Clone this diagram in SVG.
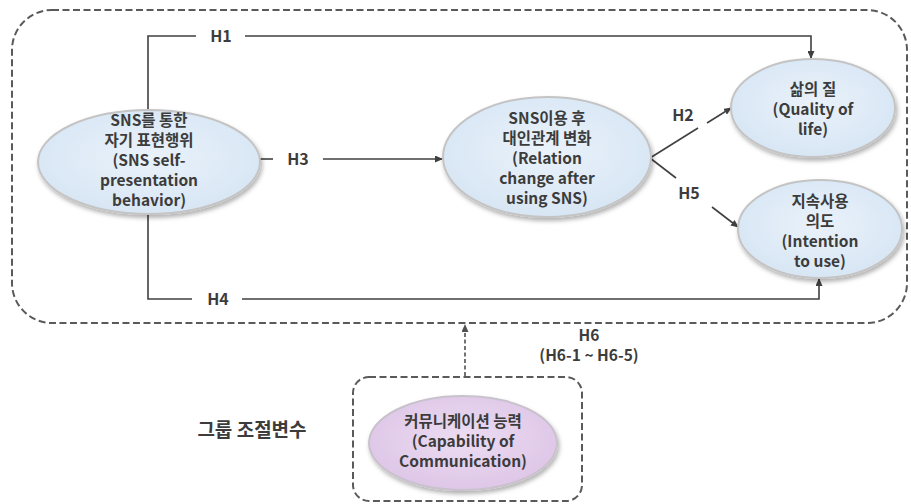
<svg xmlns="http://www.w3.org/2000/svg" width="911" height="504" viewBox="0 0 911 504">
<defs>
<style>
.t{font-family:"Noto Sans CJK KR","Malgun Gothic","Liberation Sans",sans-serif;font-weight:bold;fill:#3c3c3c;text-anchor:middle}
.n{font-size:15.5px}
.l{font-size:16px}
.c{fill:none;stroke:#404040;stroke-width:1.6}
.d{fill:none;stroke:#5a5a5a;stroke-width:2;stroke-dasharray:7 3.5}
.eb{fill:url(#gb);stroke:#c4c4c4;stroke-width:2;filter:url(#sh)}
.ep{fill:url(#gp);stroke:#c9c2cc;stroke-width:2;filter:url(#sh)}
</style>
<radialGradient id="gb" cx="0.5" cy="0.45" r="0.6">
<stop offset="0" stop-color="#eaf2fa"/>
<stop offset="1" stop-color="#d6e5f4"/>
</radialGradient>
<radialGradient id="gp" cx="0.5" cy="0.45" r="0.6">
<stop offset="0" stop-color="#eddcf2"/>
<stop offset="1" stop-color="#dcc4e6"/>
</radialGradient>
<filter id="sh" x="-20%" y="-20%" width="140%" height="150%">
<feDropShadow dx="1.5" dy="3" stdDeviation="2" flood-color="#000" flood-opacity="0.3"/>
</filter>
<marker id="ah" markerWidth="8" markerHeight="7" refX="7" refY="3.5" orient="auto" markerUnits="userSpaceOnUse">
<path d="M0,0 L8,3.5 L0,7 Z" fill="#404040"/>
</marker>
<marker id="ahd" markerWidth="8" markerHeight="7" refX="7" refY="3.5" orient="auto" markerUnits="userSpaceOnUse">
<path d="M0,0 L8,3.5 L0,7 Z" fill="#505050"/>
</marker>
</defs>
<rect width="911" height="504" fill="#ffffff"/>

<g id="group-outer">
<rect class="d" x="12" y="10" width="895" height="313" rx="40" ry="40"/>
</g>

<g id="connectors">
<path class="c" d="M148,110 V36 H196"/>
<path class="c" d="M245,36 H811 V58" marker-end="url(#ah)"/>
<path class="c" d="M148,213 V299 H192"/>
<path class="c" d="M242,299 H819 V279" marker-end="url(#ah)"/>
<path class="c" d="M259,159 H273"/>
<path class="c" d="M323,159 H442" marker-end="url(#ah)"/>
<path class="c" d="M650,158 L698,128"/>
<path class="c" d="M707,123 L731,108" marker-end="url(#ah)"/>
<path class="c" d="M650,158 L676,178"/>
<path class="c" d="M712,207 L738,227" marker-end="url(#ah)"/>
<path fill="none" stroke="#505050" stroke-width="1.6" stroke-dasharray="4 2.5" d="M465,376 V325" marker-end="url(#ahd)"/>
<text class="t l" x="221" y="42">H1</text>
<text class="t l" x="218" y="305">H4</text>
<text class="t l" x="298" y="165">H3</text>
<text class="t l" x="683" y="121">H2</text>
<text class="t l" x="689" y="199">H5</text>
<text class="t n" x="589" y="341">H6</text>
<text class="t n" x="589" y="361">(H6-1 ~ H6-5)</text>
</g>

<g id="node-sns-self">
<ellipse class="eb" cx="149" cy="162" rx="111" ry="52"/>
<text class="t n" x="149" y="126">SNS를 통한</text>
<text class="t n" x="149" y="146">자기 표현행위</text>
<text class="t n" x="149" y="166">(SNS self-</text>
<text class="t n" x="149" y="186">presentation</text>
<text class="t n" x="149" y="206">behavior)</text>
</g>

<g id="node-relation">
<ellipse class="eb" cx="547" cy="157" rx="104" ry="60"/>
<text class="t n" x="547" y="124">SNS이용 후</text>
<text class="t n" x="547" y="144">대인관계 변화</text>
<text class="t n" x="547" y="164">(Relation</text>
<text class="t n" x="547" y="184">change after</text>
<text class="t n" x="547" y="204">using SNS)</text>
</g>

<g id="node-quality">
<ellipse class="eb" cx="813" cy="108" rx="82" ry="49"/>
<text class="t n" x="813" y="95">삶의 질</text>
<text class="t n" x="813" y="115">(Quality of</text>
<text class="t n" x="813" y="135">life)</text>
</g>

<g id="node-intention">
<ellipse class="eb" cx="820" cy="229" rx="82" ry="49"/>
<text class="t n" x="820" y="207">지속사용</text>
<text class="t n" x="820" y="227">의도</text>
<text class="t n" x="820" y="247">(Intention</text>
<text class="t n" x="820" y="267">to use)</text>
</g>

<g id="group-moderator">
<rect class="d" x="353" y="377" width="229" height="124" rx="16" ry="16"/>
<text class="t" style="font-size:19px" x="252" y="437">그룹 조절변수</text>
</g>

<g id="node-communication">
<ellipse class="ep" cx="463" cy="443" rx="94" ry="47"/>
<text class="t n" x="463" y="427">커뮤니케이션 능력</text>
<text class="t n" x="463" y="447">(Capability of</text>
<text class="t n" x="463" y="467">Communication)</text>
</g>
</svg>
